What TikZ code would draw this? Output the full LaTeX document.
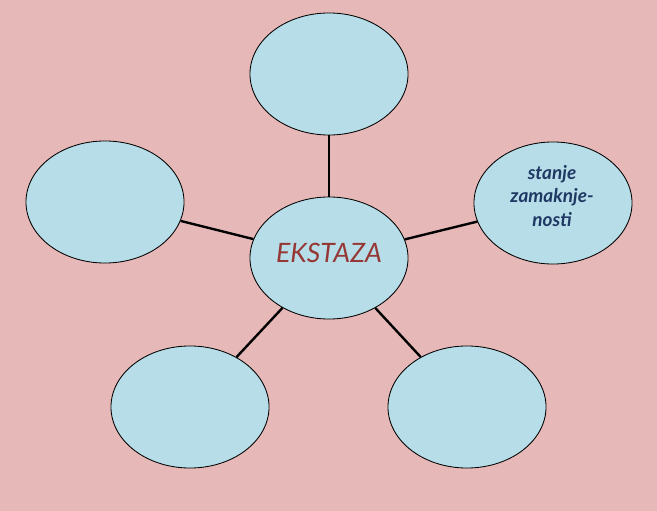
\documentclass[tikz,border=0pt]{standalone}
\usepackage{fontspec}
\setmainfont{Lato}
\usepackage{tikz}
\usetikzlibrary{shapes.geometric}

\definecolor{bgpink}{HTML}{E6B8B7}
\definecolor{bubblefill}{HTML}{B7DEE8}
\definecolor{redtext}{HTML}{953735}
\definecolor{bluetext}{HTML}{1F3864}

\tikzset{
    bubble/.style={ellipse,draw,line width=0.6pt,fill=bubblefill,inner sep=0pt,
        minimum width=3.95cm,minimum height=3.05cm},
    spoke/.style={line width=1.7pt}
}

\begin{document}
\begin{tikzpicture}[x=0.025cm,y=-0.025cm]
    \fill[bgpink] (0,0) rectangle (657,511);
    \node[bubble] (ek) at (329,258) {};
    \node[font=\itshape\fontsize{19}{21}\selectfont,text=redtext] (ektext) at (329,253) {EKSTAZA};
    \node[bubble] (t) at (329,74) {};
    \node[bubble] (l) at (105,202) {};
    \node[bubble] (r) at (553,203) {};
    \node[align=center,font=\bfseries\itshape\fontsize{13.5}{16.7}\selectfont,text=bluetext] (rtext) at (552,196) {stanje\\zamaknje-\\nosti};
    \node[bubble] (bl) at (190,407) {};
    \node[bubble] (br) at (467,407) {};
    \draw[spoke] (ek) -- (t);
    \draw[spoke] (ek) -- (l);
    \draw[spoke] (ek) -- (r);
    \draw[spoke] (ek) -- (bl);
    \draw[spoke] (ek) -- (br);
\end{tikzpicture}
\end{document}
